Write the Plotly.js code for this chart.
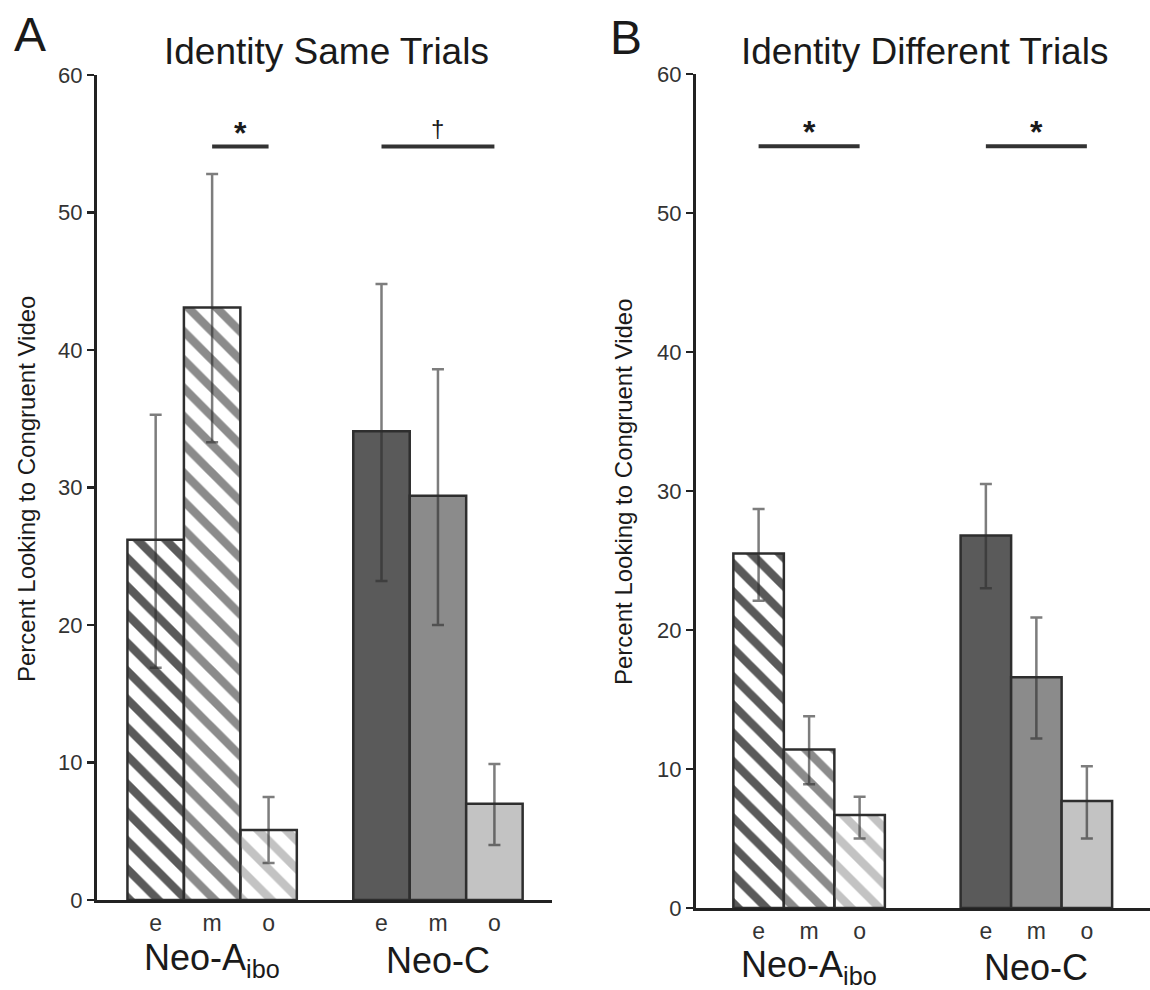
<!DOCTYPE html>
<html>
<head>
<meta charset="utf-8">
<script src="https://cdn.plot.ly/plotly-3.0.1.min.js"></script>
<style>html,body{margin:0;padding:0;background:#fff;}#chart{width:1150px;height:990px;}</style>
</head>
<body>
<div id="chart"></div>
<script>
// ---------- data ----------
const conditions = ['e', 'm', 'o'];
const groupLabels = ['Neo-A<sub>ibo</sub>', 'Neo-C'];

// Panel A: Identity Same Trials
const aiboMeanA = [26.2, 43.1, 5.1];
const aiboHighA = [35.3, 52.8, 7.5];
const aiboLowA  = [16.9, 33.3, 2.7];
const cMeanA    = [34.1, 29.4, 7.0];
const cHighA    = [44.8, 38.6, 9.9];
const cLowA     = [23.2, 20.0, 4.0];

// Panel B: Identity Different Trials
const aiboMeanB = [25.5, 11.4, 6.7];
const aiboHighB = [28.7, 13.8, 8.0];
const aiboLowB  = [22.1, 8.9, 5.0];
const cMeanB    = [26.8, 16.6, 7.7];
const cHighB    = [30.5, 20.9, 10.2];
const cLowB     = [23.0, 12.2, 5.0];

// significance brackets: group, from condition, to condition, label
const sigGroupA = [0, 1];
const sigFromA  = ['m', 'e'];
const sigToA    = ['o', 'o'];
const sigTextA  = ['*', '†'];
const sigGroupB = [0, 1];
const sigFromB  = ['e', 'e'];
const sigToB    = ['o', 'o'];
const sigTextB  = ['*', '*'];
const sigLevel  = 54.8;

// ---------- styling ----------
const condColors = ['#5a5a5a', '#8b8b8b', '#c3c3c3'];
const FONT = 'Liberation Sans, Arial, Helvetica, sans-serif';
const INK = '#1a1a1a';

function pos(group, condIdx, offset) { return group * offset + condIdx; }

function buildTrace(aM, aH, aL, cM, cH, cL, offset, xa, ya) {
  const x = [], y = [], up = [], dn = [], colors = [], shapes = [], fg = [];
  const groups = [[aM, aH, aL], [cM, cH, cL]];
  groups.forEach((g, gi) => {
    conditions.forEach((c, ci) => {
      x.push(pos(gi, ci, offset));
      y.push(g[0][ci]);
      up.push(+(g[1][ci] - g[0][ci]).toFixed(3));
      dn.push(+(g[0][ci] - g[2][ci]).toFixed(3));
      colors.push(condColors[ci]);
      shapes.push(gi === 0 ? '\\' : '');
      fg.push('#ffffff');
    });
  });
  return {
    type: 'bar', x: x, y: y, width: 1, xaxis: xa, yaxis: ya,
    marker: {
      color: colors,
      line: {color: '#2e2e2e', width: 2.5},
      pattern: {shape: shapes, bgcolor: colors, fgcolor: fg, size: 20, solidity: 0.42, fillmode: 'replace'}
    },
    error_y: {type: 'data', symmetric: false, array: up, arrayminus: dn,
              color: 'rgba(45,45,45,0.62)', thickness: 2.5, width: 6},
    hoverinfo: 'skip', showlegend: false
  };
}

const offsetA = 4, offsetB = 4.5;
const traceA = buildTrace(aiboMeanA, aiboHighA, aiboLowA, cMeanA, cHighA, cLowA, offsetA, 'x', 'y');
const traceB = buildTrace(aiboMeanB, aiboHighB, aiboLowB, cMeanB, cHighB, cLowB, offsetB, 'x2', 'y2');

function tickVals(offset) {
  const v = [];
  [0, 1].forEach(gi => conditions.forEach((c, ci) => v.push(pos(gi, ci, offset))));
  return v;
}
const tickText = conditions.concat(conditions);

const yaxisBase = {
  range: [0, 60], tickvals: [0, 10, 20, 30, 40, 50, 60], ticks: 'outside', ticklen: 7, tickwidth: 2.5,
  tickcolor: '#222', showline: true, linewidth: 3, linecolor: '#222', showgrid: false, zeroline: false,
  tickfont: {family: FONT, size: 22, color: '#333'}, fixedrange: true
};
const xaxisBase = {
  showline: true, linewidth: 3, linecolor: '#222', showgrid: false, zeroline: false, ticks: '',
  tickfont: {family: FONT, size: 23, color: '#333'}, ticktext: tickText, fixedrange: true
};

const shapes = [];
const annotations = [];
function addSig(groupsArr, fromArr, toArr, textArr, offset, xref, yref) {
  textArr.forEach((t, i) => {
    const x0 = pos(groupsArr[i], conditions.indexOf(fromArr[i]), offset);
    const x1 = pos(groupsArr[i], conditions.indexOf(toArr[i]), offset);
    shapes.push({type: 'line', xref: xref, yref: yref, x0: x0, x1: x1, y0: sigLevel, y1: sigLevel,
                 line: {color: '#333', width: 4}});
    const isStar = t === '*';
    annotations.push({xref: xref, yref: yref, x: (x0 + x1) / 2, y: sigLevel, xanchor: 'center', yanchor: 'bottom',
                      yshift: isStar ? -6 : 3, text: isStar ? '<b>*</b>' : t, showarrow: false,
                      font: {family: FONT, size: isStar ? 32 : 24, color: INK}});
  });
}
addSig(sigGroupA, sigFromA, sigToA, sigTextA, offsetA, 'x', 'y');
addSig(sigGroupB, sigFromB, sigToB, sigTextB, offsetB, 'x2', 'y2');

// group labels under axes
[0, 1].forEach(gi => {
  annotations.push({xref: 'x', yref: 'paper', x: pos(gi, 1, offsetA), y: 0.0303, xanchor: 'center', yanchor: 'middle',
    text: groupLabels[gi], showarrow: false, font: {family: FONT, size: 36, color: INK}});
  annotations.push({xref: 'x2', yref: 'paper', x: pos(gi, 1, offsetB), y: 0.0232, xanchor: 'center', yanchor: 'middle',
    text: groupLabels[gi], showarrow: false, font: {family: FONT, size: 36, color: INK}});
});

// panel letters, titles, y titles
function paperText(x, y, text, size, angle) {
  const a = {xref: 'paper', yref: 'paper', x: x, y: y, xanchor: 'center', yanchor: 'middle',
             text: text, showarrow: false, font: {family: FONT, size: size, color: INK}};
  if (angle) a.textangle = angle;
  annotations.push(a);
}
paperText(0.0265, 0.965, 'A', 48);
paperText(0.5440, 0.962, 'B', 48);
paperText(0.2843, 0.9475, 'Identity Same Trials', 37);
paperText(0.8035, 0.9475, 'Identity Different Trials', 37);
paperText(0.0226, 0.507, 'Percent Looking to Congruent Video', 24, -90);
paperText(0.5417, 0.504, 'Percent Looking to Congruent Video', 24, -90);

const layout = {
  width: 1150, height: 990, autosize: false,
  margin: {l: 0, r: 0, t: 0, b: 0, pad: 0},
  paper_bgcolor: '#ffffff', plot_bgcolor: '#ffffff',
  showlegend: false, barmode: 'group',
  xaxis: Object.assign({}, xaxisBase, {domain: [0.0843, 0.48], range: [-1.04, 7.02], tickvals: tickVals(offsetA), anchor: 'y'}),
  yaxis: Object.assign({}, yaxisBase, {domain: [0.0909, 0.9242], anchor: 'x'}),
  xaxis2: Object.assign({}, xaxisBase, {domain: [0.6052, 1.0], range: [-1.24, 7.75], tickvals: tickVals(offsetB), anchor: 'y2'}),
  yaxis2: Object.assign({}, yaxisBase, {domain: [0.0828, 0.9253], anchor: 'x2'}),
  shapes: shapes,
  annotations: annotations
};

Plotly.newPlot('chart', [traceA, traceB], layout, {displayModeBar: false, staticPlot: true});
</script>
</body>
</html>
